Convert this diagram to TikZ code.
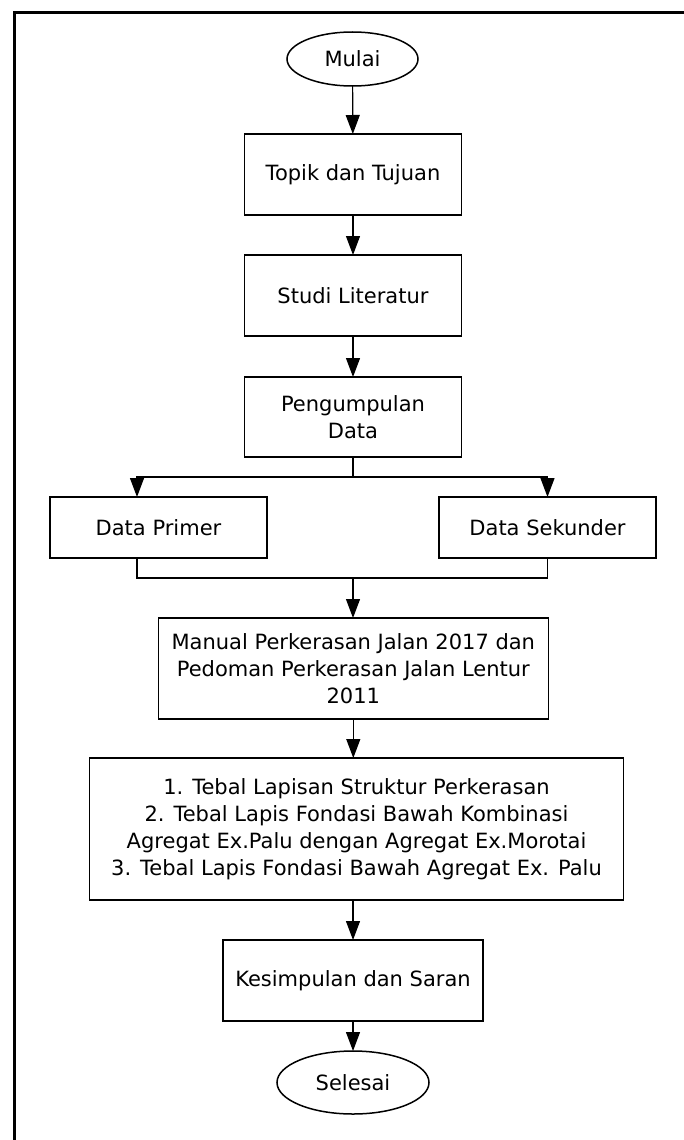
\documentclass[tikz,border=0pt]{standalone}
\usepackage{fontspec}
\setmainfont{DejaVu Sans}
\usetikzlibrary{shapes.geometric,arrows.meta}

\begin{document}
\begin{tikzpicture}[x=1pt,y=-1pt,
  every node/.style={font=\fontsize{21}{27}\selectfont, align=center, inner sep=0pt, outer sep=0pt},
  kotak/.style={draw, line width=1.5pt, rectangle},
  oval/.style={draw, line width=1.5pt, ellipse},
  garis/.style={line width=1.2pt},
  panah/.style={garis, -{Triangle[length=19pt,width=14pt]}}]
\useasboundingbox (0,0) rectangle (684,1140);
\draw[line width=3pt] (14,1140) -- (14,13) -- (684,13);

\node[oval, minimum width=131, minimum height=54] (mulai) at (352.5,59) {Mulai};
\node[kotak, minimum width=217, minimum height=81] (topik) at (353,174.5) {Topik dan Tujuan};
\node[kotak, minimum width=217, minimum height=81] (studi) at (353,295.5) {Studi Literatur};
\node[kotak, minimum width=217, minimum height=80] (kumpul) at (353,417) {Pengumpulan\\Data};
\node[kotak, minimum width=217, minimum height=61] (primer) at (158.5,527.5) {Data Primer};
\node[kotak, minimum width=217, minimum height=61] (sekunder) at (547.5,527.5) {Data Sekunder};
\node[kotak, minimum width=390, minimum height=101] (manual) at (353.3,668.5) {Manual Perkerasan Jalan 2017 dan\\Pedoman Perkerasan Jalan Lentur\\2011};
\node[kotak, minimum width=534, minimum height=142] (hasil) at (356.5,829) {1. Tebal Lapisan Struktur Perkerasan\\2. Tebal Lapis Fondasi Bawah Kombinasi\\Agregat Ex.Palu dengan Agregat Ex.Morotai\\3. Tebal Lapis Fondasi Bawah Agregat Ex. Palu};
\node[kotak, minimum width=260, minimum height=81] (simpul) at (353,980.5) {Kesimpulan dan Saran};
\node[oval, minimum width=152, minimum height=63] (selesai) at (353,1082.5) {Selesai};

\coordinate (cabang) at (353,477);
\coordinate (kiri) at (137,477);
\coordinate (gabung) at (353,578);

\draw[panah] (mulai) -- (topik);
\draw[panah] (topik) -- (studi);
\draw[panah] (studi) -- (kumpul);
\draw[garis] (kumpul) -- (cabang);
\draw[panah] (cabang) -| (kiri |- primer.north);
\draw[panah] (cabang) -| (sekunder.north);
\draw[garis] (kiri |- primer.south) |- (sekunder.south |- gabung) -- (sekunder.south);
\draw[panah] (gabung) -- (gabung |- manual.north);
\draw[panah] (manual) -- (manual.south |- hasil.north);
\draw[panah] (simpul |- hasil.south) -- (simpul);
\draw[panah] (simpul) -- (selesai);
\end{tikzpicture}
\end{document}
